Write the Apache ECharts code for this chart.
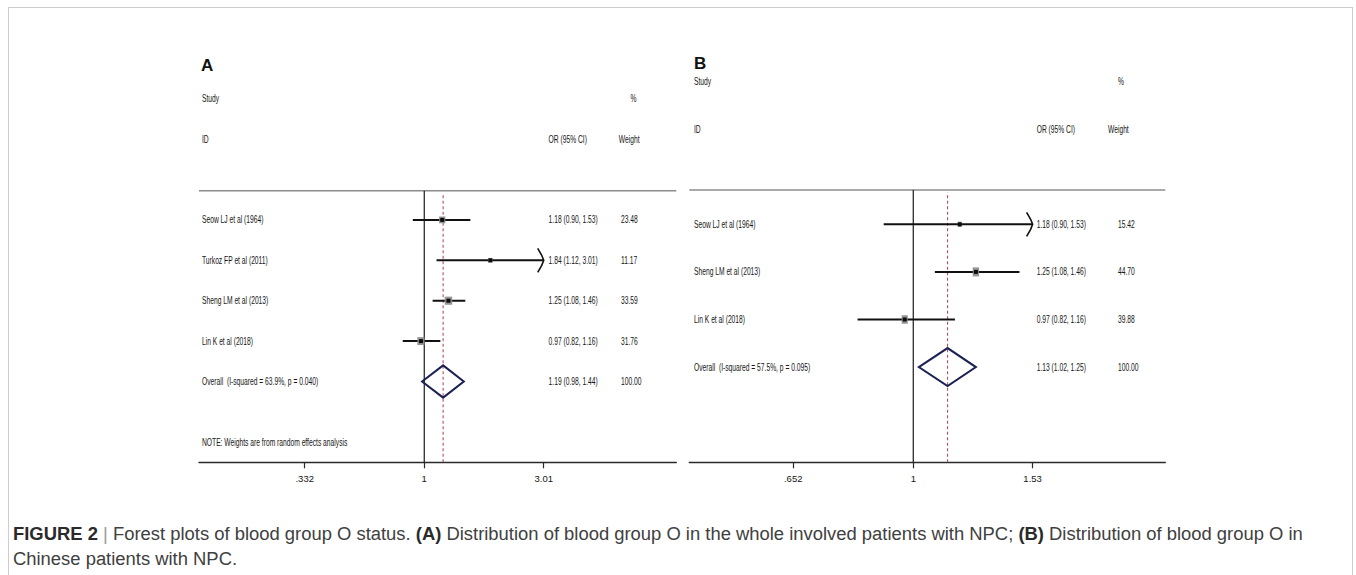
<!DOCTYPE html>
<html>
<head>
<meta charset="utf-8">
<script src="https://cdn.jsdelivr.net/npm/echarts@6/dist/echarts.min.js"></script>
<style>
html,body{margin:0;padding:0;background:#fff;width:1356px;height:575px;overflow:hidden;}
#frame{position:absolute;left:8px;top:7px;width:1345px;height:640px;border:1px solid #cdcdcd;box-sizing:border-box;}
#chart{position:absolute;left:0;top:0;width:1356px;height:575px;}
#cap{position:absolute;left:13px;top:521px;font-family:'Liberation Sans',Arial,sans-serif;color:#404040;line-height:25px;white-space:nowrap;font-size:15px;}
#cap b{color:#2a2a2a;}
#cap .bar{color:#9a9a9a;}
</style>
</head>
<body>
<div id="frame"></div>
<div id="chart"></div>
<div id="cap"><div id="cap1"><b>FIGURE 2</b> <span class="bar">|</span> Forest plots of blood group O status. <b>(A)</b> Distribution of blood group O in the whole involved patients with NPC; <b>(B)</b> Distribution of blood group O in</div><div>Chinese patients with NPC.</div></div>
<script>
// ---------------- data ----------------
const studiesA = ['Seow LJ et al (1964)', 'Turkoz FP et al (2011)', 'Sheng LM et al (2013)', 'Lin K et al (2018)'];
const orA = [1.18, 1.84, 1.25, 0.97];
const loA = [0.90, 1.12, 1.08, 0.82];
const hiA = [1.53, 3.01, 1.46, 1.16];
const weightA = [23.48, 11.17, 33.59, 31.76];
const overallLabelA = 'Overall  (I-squared = 63.9%, p = 0.040)';
const overallA = [1.19, 0.98, 1.44];
const ticksA = [0.332, 1, 3.01];
const tickLabelsA = ['.332', '1', '3.01'];
const noteA = 'NOTE: Weights are from random effects analysis';

const studiesB = ['Seow LJ et al (1964)', 'Sheng LM et al (2013)', 'Lin K et al (2018)'];
const orB = [1.18, 1.25, 0.97];
const loB = [0.90, 1.08, 0.82];
const hiB = [1.53, 1.46, 1.16];
const weightB = [15.42, 44.70, 39.88];
const overallLabelB = 'Overall  (I-squared = 57.5%, p = 0.095)';
const overallB = [1.13, 1.02, 1.25];
const ticksB = [0.652, 1, 1.53];
const tickLabelsB = ['.652', '1', '1.53'];

const headerStudy = 'Study';
const headerID = 'ID';
const headerOR = 'OR (95% CI)';
const headerPct = '%';
const headerWeight = 'Weight';
const overallWeight = '100.00';

// ---------------- fonts ----------------
const FAM = "'Liberation Sans', Arial, sans-serif";
const FS = 10.5;
const measureCtx = document.createElement('canvas').getContext('2d');
measureCtx.font = FS + "px 'Liberation Sans', Arial, sans-serif";
let SX = 61.5 / measureCtx.measureText(studiesA[0]).width;
SX = Math.max(0.6, Math.min(1.1, SX));

// ---------------- panels ----------------
const panels = [
  {studies: studiesA, or: orA, lo: loA, hi: hiA, w: weightA, ov: overallA, ovLabel: overallLabelA,
   ticks: ticksA, tickLabels: tickLabelsA, note: noteA,
   grid: {left: 199, width: 477.3, top: 58.3, height: 404}, xr: [-2.078, 2.325], ymax: 10,
   col: {label: 202, or: 548.6, wHead: 618.8, pct: 630.4, w: 621}, box: [1.3, 1.4]},
  {studies: studiesB, or: orB, lo: loB, hi: hiB, w: weightB, ov: overallB, ovLabel: overallLabelB,
   ticks: ticksB, tickLabels: tickLabelsB, note: null,
   grid: {left: 689.3, width: 476, top: 33.9, height: 428.4}, xr: [-0.798, 0.898], ymax: 9,
   col: {label: 694, or: 1036.7, wHead: 1108, pct: 1118, w: 1118}, box: [0.95, 1.35]}
];

function txt(x, y, s, align){
  return {type: 'text', x: x, y: y, scaleX: SX,
    style: {text: s, fontSize: FS, fontFamily: FAM, fill: '#151515', align: align || 'left', verticalAlign: 'middle'}};
}
function ciText(o, l, h){ return o.toFixed(2) + ' (' + l.toFixed(2) + ', ' + h.toFixed(2) + ')'; }

const series = [];
panels.forEach(function(p, k){
  const n = p.studies.length;
  const topRow = n + 2.72;
  const maxTick = Math.max.apply(null, p.ticks);
  const minTick = Math.min.apply(null, p.ticks);
  // studies
  series.push({
    type: 'custom', xAxisIndex: k, yAxisIndex: k, silent: true,
    data: p.studies.map(function(s, i){ return [Math.log(p.or[i]), n + 2 - i, Math.log(p.lo[i]), Math.log(p.hi[i]), p.w[i]]; }),
    renderItem: function(params, api){
      const i = params.dataIndex;
      const row = api.value(1);
      const c = api.coord([api.value(0), row]);
      const arrowR = p.hi[i] >= maxTick - 1e-9;
      const arrowL = p.lo[i] <= minTick + 1e-9;
      const l = api.coord([Math.log(Math.max(p.lo[i], minTick)), row]);
      const h = api.coord([Math.log(Math.min(p.hi[i], maxTick)), row]);
      const sq = Math.sqrt(api.value(4));
      const bw = p.box[0] * sq, bh = p.box[1] * sq;
      const ch = [
        {type: 'line', shape: {x1: l[0], y1: l[1], x2: h[0], y2: h[1]}, style: {stroke: '#111', lineWidth: 2}},
        {type: 'rect', shape: {x: c[0] - bw / 2, y: c[1] - bh / 2, width: bw, height: bh}, style: {fill: '#8a8a8a', opacity: 0.9}},
        {type: 'rect', shape: {x: c[0] - 2, y: c[1] - 2, width: 4, height: 4}, style: {fill: '#0d0d0d'}}
      ];
      if (arrowR) ch.push({type: 'polyline', shape: {points: [[h[0] - 6, h[1] - 12], [h[0] - 2, h[1] - 5], [h[0], h[1]], [h[0] - 2, h[1] + 5], [h[0] - 6, h[1] + 12]]},
        style: {stroke: '#111', lineWidth: 1.6, fill: null}});
      if (arrowL) ch.push({type: 'polyline', shape: {points: [[l[0] + 6, l[1] - 12], [l[0] + 2, l[1] - 5], [l[0], l[1]], [l[0] + 2, l[1] + 5], [l[0] + 6, l[1] + 12]]},
        style: {stroke: '#111', lineWidth: 1.6, fill: null}});
      ch.push(txt(p.col.label, c[1], p.studies[i]));
      ch.push(txt(p.col.or, c[1], ciText(p.or[i], p.lo[i], p.hi[i])));
      ch.push(txt(p.col.w, c[1], p.w[i].toFixed(2)));
      return {type: 'group', children: ch};
    }
  });
  // overall diamond
  series.push({
    type: 'custom', xAxisIndex: k, yAxisIndex: k, silent: true,
    data: [[Math.log(p.ov[0]), 2, Math.log(p.ov[1]), Math.log(p.ov[2])]],
    renderItem: function(params, api){
      const row = api.value(1);
      const L = api.coord([api.value(2), row]);
      const T = api.coord([api.value(0), row + 0.4]);
      const R = api.coord([api.value(3), row]);
      const B = api.coord([api.value(0), row - 0.4]);
      return {type: 'group', children: [
        {type: 'polygon', shape: {points: [L, T, R, B]}, style: {stroke: '#1b2152', lineWidth: 2, fill: null}},
        txt(p.col.label, L[1], p.ovLabel),
        txt(p.col.or, L[1], ciText(p.ov[0], p.ov[1], p.ov[2])),
        txt(p.col.w, L[1], overallWeight)
      ]};
    }
  });
  // reference lines, headers, tick labels
  series.push({
    type: 'custom', xAxisIndex: k, yAxisIndex: k, silent: true, z: 1,
    data: [[0, 0]],
    renderItem: function(params, api){
      const v0 = api.coord([0, 0]), v1 = api.coord([0, topRow]);
      const d0 = api.coord([Math.log(p.ov[0]), 0]), d1 = api.coord([Math.log(p.ov[0]), topRow - 0.05]);
      const t0 = api.coord([p.xr[0], topRow]), t1 = api.coord([p.xr[1], topRow]);
      const yStudy = api.coord([0, n + 5])[1], yID = api.coord([0, n + 4])[1];
      const ch = [
        {type: 'line', shape: {x1: t0[0], y1: t0[1], x2: t1[0], y2: t1[1]}, style: {stroke: '#8c8c8c', lineWidth: 1.5}},
        {type: 'line', shape: {x1: v0[0], y1: v0[1], x2: v1[0], y2: v1[1]}, style: {stroke: '#1a1a1a', lineWidth: 1.2}},
        {type: 'line', shape: {x1: d0[0], y1: d0[1], x2: d1[0], y2: d1[1]}, style: {stroke: '#b5505e', lineWidth: 1.1, lineDash: [3, 2.5]}},
        txt(p.col.label, yStudy, headerStudy),
        txt(p.col.pct, yStudy, headerPct),
        txt(p.col.label, yID, headerID),
        txt(p.col.or, yID, headerOR),
        txt(p.col.wHead, yID, headerWeight)
      ];
      if (p.note) ch.push(txt(p.col.label, api.coord([0, 0.485])[1], p.note));
      return {type: 'group', children: ch};
    }
  });
});

const chart = echarts.init(document.getElementById('chart'), null, {renderer: 'svg'});
chart.setOption({
  animation: false,
  backgroundColor: 'transparent',
  graphic: [
    {type: 'text', left: 201, top: 57, style: {text: 'A', font: "bold 17px 'Liberation Sans', Arial, sans-serif", fill: '#111'}},
    {type: 'text', left: 694, top: 55, style: {text: 'B', font: "bold 17px 'Liberation Sans', Arial, sans-serif", fill: '#111'}}
  ],
  grid: panels.map(function(p){ return {left: p.grid.left, top: p.grid.top, width: p.grid.width, height: p.grid.height}; }),
  xAxis: panels.map(function(p, k){
    const lt = p.ticks.map(Math.log);
    return {
      type: 'value', gridIndex: k, min: p.xr[0], max: p.xr[1],
      axisLine: {show: true, onZero: false, lineStyle: {color: '#2a2a2a', width: 1.4}},
      axisTick: {show: true, customValues: lt, length: 6, lineStyle: {color: '#2a2a2a', width: 1.2}},
      axisLabel: {show: true, customValues: lt, margin: 11, fontSize: 9.5, fontFamily: FAM, color: '#151515',
        formatter: function(v){
          for (let i = 0; i < lt.length; i++) if (Math.abs(lt[i] - v) < 1e-6) return p.tickLabels[i];
          return '';
        }},
      splitLine: {show: false}
    };
  }),
  yAxis: panels.map(function(p, k){ return {type: 'value', gridIndex: k, min: 0, max: p.ymax, show: false}; }),
  series: series
});

// fit caption first line to the reference width
(function(){
  const l1 = document.getElementById('cap1');
  const w = l1.getBoundingClientRect().width;
  const cap = document.getElementById('cap');
  cap.style.fontSize = (15 * 1290 / w).toFixed(2) + 'px';
})();
</script>
</body>
</html>
